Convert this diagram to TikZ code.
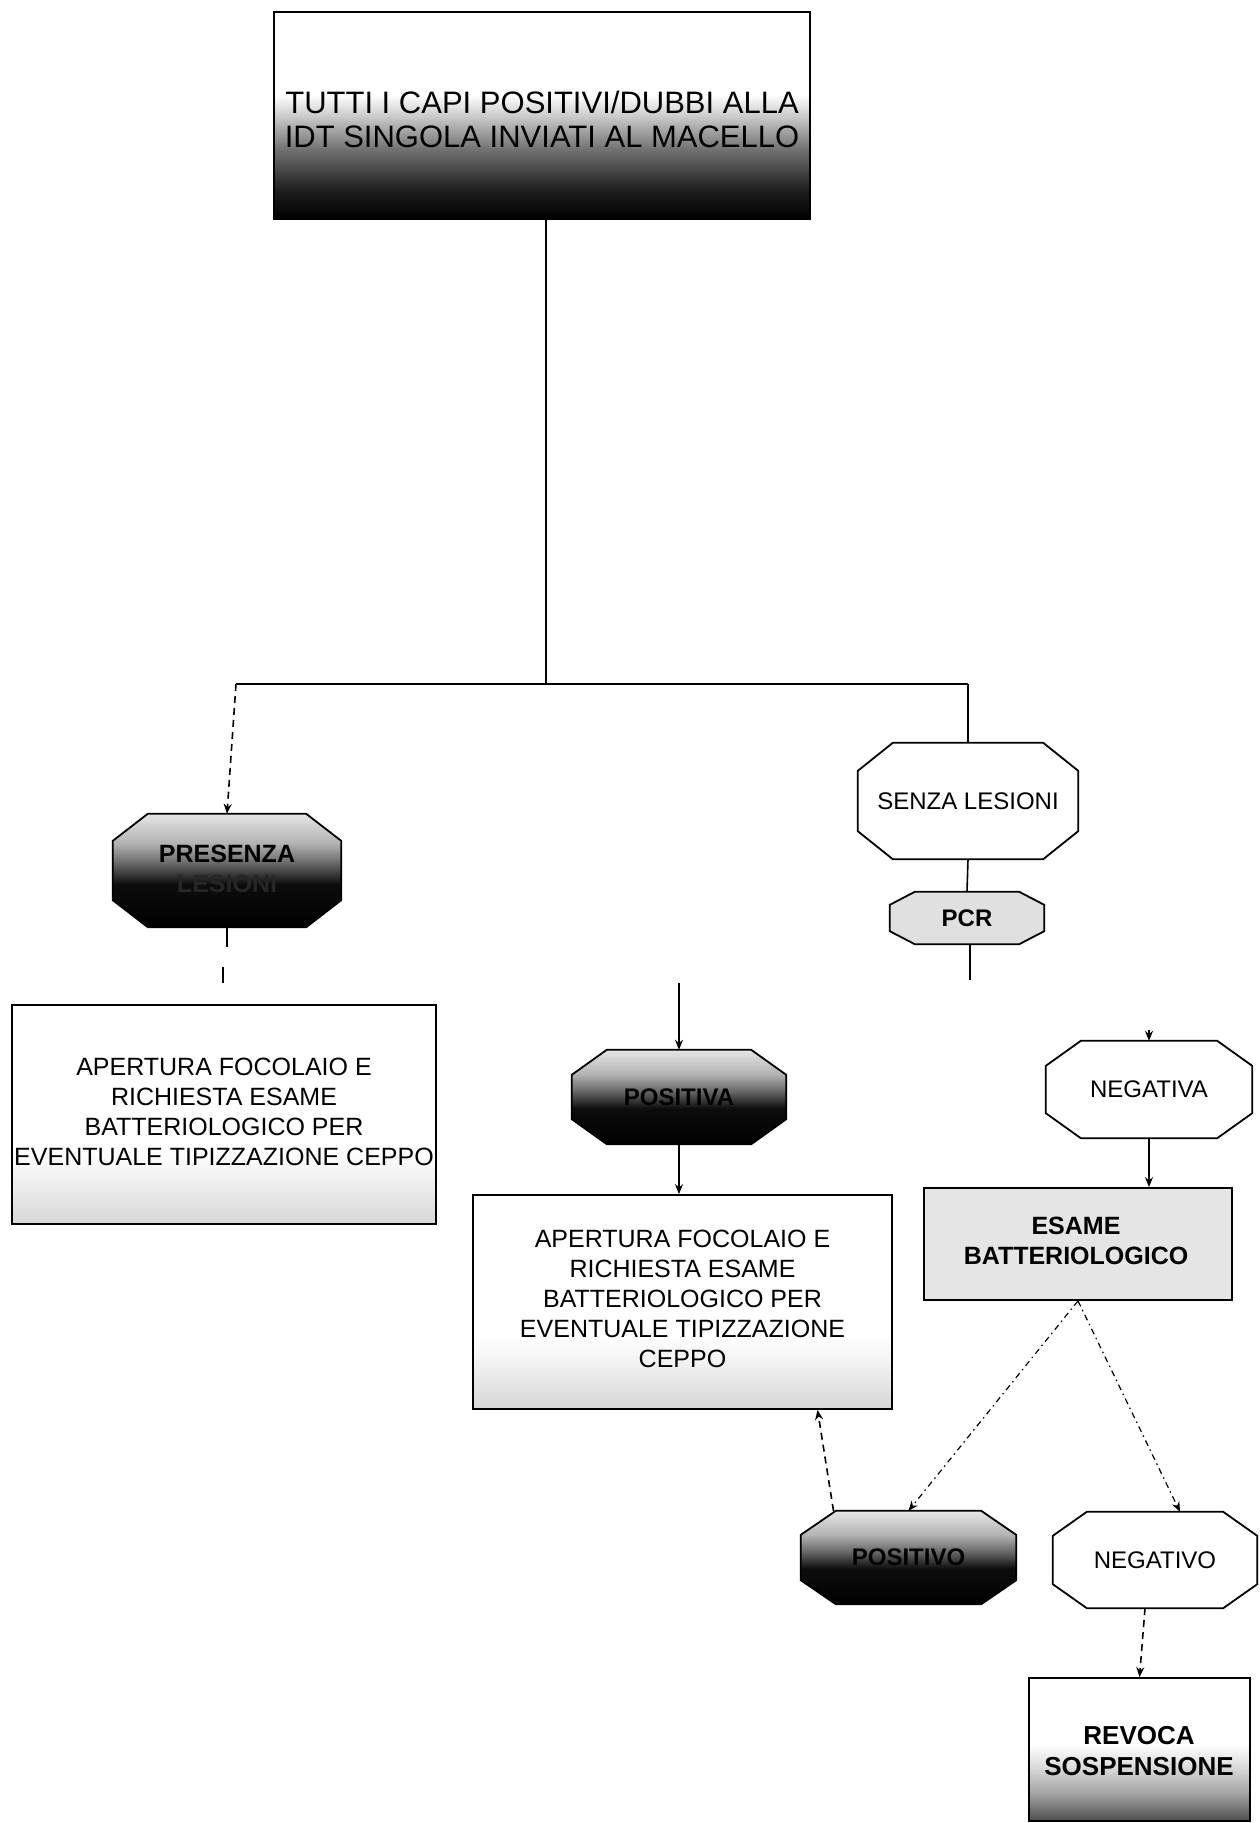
\documentclass[tikz,border=0pt]{standalone}
\usepackage{fontspec}
\setmainfont{Liberation Sans}
\usetikzlibrary{arrows.meta}
\pgfdeclareverticalshading{topsh}{100bp}{color(0bp)=(black); color(25bp)=(black); color(32bp)=(black!88); color(42bp)=(black!55); color(50bp)=(black!20); color(55bp)=(white); color(100bp)=(white)}
\pgfdeclareverticalshading{darksh}{100bp}{color(0bp)=(black); color(25bp)=(black); color(44bp)=(black!95); color(53bp)=(black!60); color(62bp)=(black!30); color(75bp)=(black!10); color(100bp)=(black!10)}
\pgfdeclareverticalshading{lightbot}{100bp}{color(0bp)=(black!16); color(25bp)=(black!16); color(36bp)=(black!5); color(42bp)=(white); color(100bp)=(white)}
\pgfdeclareverticalshading{revsh}{100bp}{color(0bp)=(black!70); color(25bp)=(black!70); color(35bp)=(black!35); color(45bp)=(black!12); color(52bp)=(white); color(100bp)=(white)}
\newcommand\octnode[9]{%
  \node[minimum width=#4pt, minimum height=#5pt, inner sep=0pt] (#1) at (#2,#3) {};
  \path[#8] ([xshift=#6pt]#1.north west) -- ([xshift=-#6pt]#1.north east) -- ([yshift=-#7pt]#1.north east) -- ([yshift=#7pt]#1.south east) -- ([xshift=-#6pt]#1.south east) -- ([xshift=#6pt]#1.south west) -- ([yshift=#7pt]#1.south west) -- ([yshift=-#7pt]#1.north west) -- cycle;
  \node[lbl] (#1-t) at (#1.center) {#9};
}
\begin{document}
\begin{tikzpicture}[x=1pt, y=-1pt,
  lbl/.style={align=center, inner sep=0pt, font=\fontsize{24}{25}\selectfont},
  aplbl/.style={align=center, inner sep=0pt, font=\fontsize{25}{30}\selectfont},
  blbl/.style={align=center, inner sep=0pt, font=\bfseries\fontsize{25}{30}\selectfont},
  boxsh/.style={draw=black, line width=1.8pt, inner sep=0pt},
  conn/.style={line width=1.6pt},
  arr/.style={conn, -{Stealth[length=10pt,width=8pt]}},
  dsh/.style={arr, dash pattern=on 7pt off 5pt},
  dshdot/.style={arr, line width=1.2pt, dash pattern=on 6pt off 4pt on 1.5pt off 4pt}]
\path[use as bounding box, fill=white] (0,0) rectangle (1259,1823);

% top box
\node[boxsh, shade, shading=topsh, minimum width=536pt, minimum height=207pt] (top) at (542,115.5) {};
\node[lbl, font=\fontsize{31}{34}\selectfont] (top-t) at (542,119) {TUTTI I CAPI POSITIVI/DUBBI ALLA\\IDT SINGOLA INVIATI AL MACELLO};

\coordinate (j0) at (546,684);
\coordinate (jl) at (236,684);
\coordinate (jr) at (968,684);

% left branch
\octnode{pres}{227}{870.5}{228}{113}{35}{27}{boxsh, shade, shading=darksh}{}
\node[blbl] (pres-l) at (227,869) {PRESENZA\\\textcolor{black!85}{LESIONI}};
\coordinate (ps) at (227,947);
\coordinate (tk1) at (223,967);
\coordinate (tk2) at (223,983);
\node[boxsh, shade, shading=lightbot, minimum width=424pt, minimum height=219pt] (ap1) at (224,1114.5) {};
\node[aplbl] (ap1-t) at (224,1112) {APERTURA FOCOLAIO E\\RICHIESTA ESAME\\BATTERIOLOGICO PER\\EVENTUALE TIPIZZAZIONE CEPPO};

% right branch
\octnode{senza}{968}{801}{220}{116}{35}{28}{boxsh, fill=white}{SENZA LESIONI}
\octnode{pcr}{967}{918}{154}{52}{25}{13}{boxsh, fill=black!12}{\bfseries PCR}
\coordinate (pcrend) at (970,980);

\coordinate (posin) at (679,983);
\octnode{posa}{679}{1097}{214}{94}{35}{25}{boxsh, shade, shading=darksh}{\bfseries POSITIVA}
\node[boxsh, shade, shading=lightbot, minimum width=419pt, minimum height=214pt] (ap2) at (682.5,1302) {};
\node[aplbl] (ap2-t) at (682.5,1299) {APERTURA FOCOLAIO E\\RICHIESTA ESAME\\BATTERIOLOGICO PER\\EVENTUALE TIPIZZAZIONE\\CEPPO};

\coordinate (negin) at (1149,1030);
\octnode{nega}{1149}{1089.5}{206}{97}{35}{25}{boxsh, fill=white}{NEGATIVA}
\node[boxsh, fill=black!10, minimum width=308pt, minimum height=112pt] (esame) at (1078,1244) {};
\node[blbl] (esame-t) at (1076,1241) {ESAME\\BATTERIOLOGICO};

\octnode{posi}{908.5}{1557.5}{215}{93}{35}{24}{boxsh, shade, shading=darksh}{\bfseries POSITIVO}
\octnode{nego}{1155}{1560}{204}{96}{34}{24}{boxsh, fill=white}{NEGATIVO}
\node[boxsh, shade, shading=revsh, minimum width=221pt, minimum height=143pt] (rev) at (1139.5,1749.5) {};
\node[blbl, font=\bfseries\fontsize{26}{31}\selectfont] (rev-t) at (1139,1751) {REVOCA\\SOSPENSIONE};

% connectors
\draw[conn] (top.south -| j0) -- (j0);
\draw[conn] (jl) -- (jr);
\draw[dsh] (jl) -- (pres.north);
\draw[conn] (jr) -- (senza.north);
\draw[conn] (pres.south) -- (ps);
\draw[line width=1.2pt] (tk1) -- (tk2);
\draw[conn] (senza.south) -- (pcr.north);
\draw[conn] (pcr.south -| pcrend) -- (pcrend);
\draw[arr] (posin) -- (posa.north);
\draw[arr] (posa.south) -- (posa.south |- ap2.north);
\draw[arr] (negin) -- (nega.north);
\draw[arr] (nega.south) -- (nega.south |- esame.north);
\draw[dshdot] (esame.south) -- (posi.north);
\draw[dshdot] (esame.south) -- ([xshift=25pt]nego.north);
\draw[dsh] ([xshift=-75pt]posi.north) -- ([xshift=135pt]ap2.south);
\draw[dsh] ([xshift=-10pt]nego.south) -- (rev.north);
\end{tikzpicture}
\end{document}
